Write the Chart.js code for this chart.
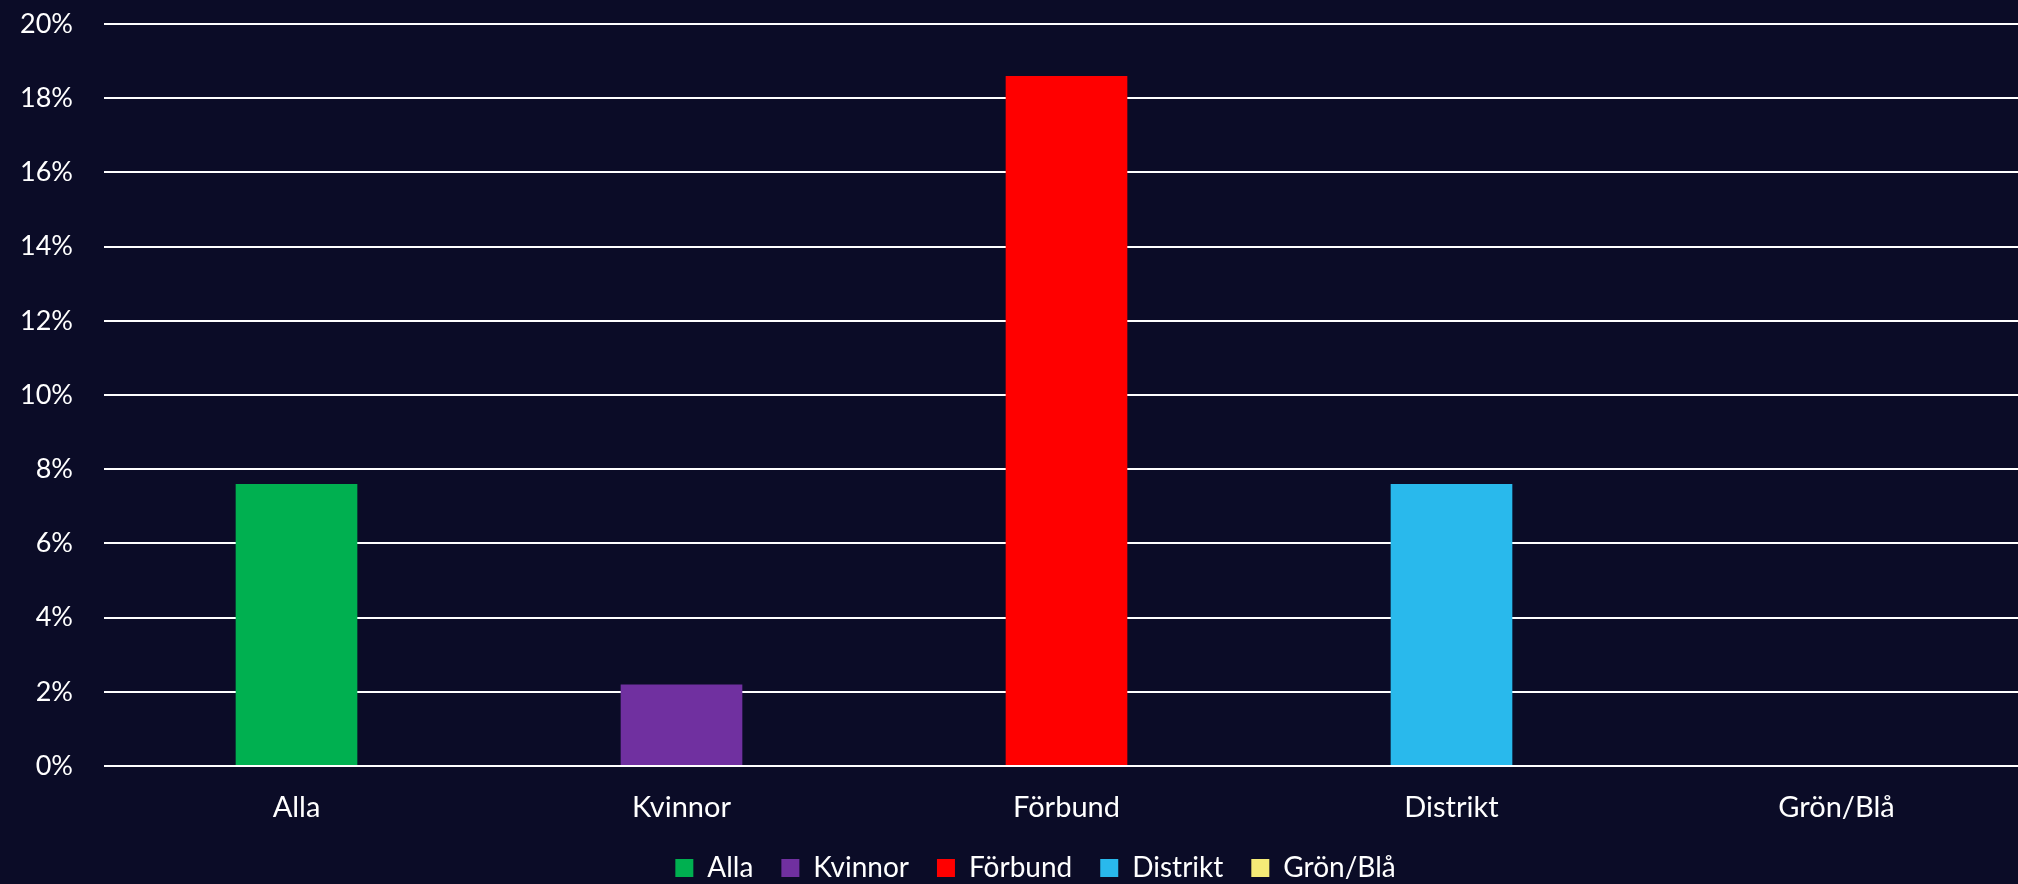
<!DOCTYPE html>
<html>
<head>
<meta charset="utf-8">
<script src="https://cdn.jsdelivr.net/npm/chart.js@4/dist/chart.umd.min.js"></script>
<style>
  html, body { margin: 0; padding: 0; background: #0B0C27; }
  #wrap { width: 2018px; height: 884px; position: relative; }
</style>
</head>
<body>
<div id="wrap"><canvas id="c" width="2018" height="884"></canvas></div>
<script>
const categories = ["Alla", "Kvinnor", "Förbund", "Distrikt", "Grön/Blå"];
const values = [7.6, 2.2, 18.6, 7.6, 0];
const colors = ["#00B050", "#7030A0", "#FF0000", "#29B9EC", "#F5EB77"];
const yTicks = [0, 2, 4, 6, 8, 10, 12, 14, 16, 18, 20];

const FONT = "Lato";
const TEXT = "#FFFFFF";

const datasets = categories.map((name, i) => ({
  label: name,
  data: categories.map((_, j) => (j === i ? values[i] : null)),
  backgroundColor: colors[i],
  borderWidth: 0,
  barPercentage: 0.316,
  categoryPercentage: 1.0,
  grouped: false,
  skipNull: true
}));

const bgPlugin = {
  id: "bg",
  beforeDraw(chart) {
    const ctx = chart.ctx;
    ctx.save();
    ctx.fillStyle = "#0B0C27";
    ctx.fillRect(0, 0, chart.width, chart.height);
    ctx.restore();
  }
};

// The plot area of the original runs slightly past the right edge of the picture.
const layoutTweak = {
  id: "layoutTweak",
  afterLayout(chart) {
    const extra = 11;
    const x = chart.scales.x;
    x.right += extra;
    x.width += extra;
    x.configure();
    chart.chartArea.right += extra;
    chart.chartArea.width += extra;
    if (chart.legend) { chart.legend.left += 53; }
  }
};

new Chart(document.getElementById("c"), {
  type: "bar",
  data: { labels: categories, datasets },
  options: {
    responsive: false,
    animation: false,
    devicePixelRatio: 1,
    layout: { padding: { top: 24, right: 0, bottom: -8, left: 0 } },
    plugins: {
      legend: {
        position: "bottom",
        labels: {
          color: TEXT,
          font: { family: FONT, size: 28 },
          boxWidth: 18,
          boxHeight: 18,
          padding: 28
        }
      },
      tooltip: { enabled: false }
    },
    scales: {
      x: {
        afterFit(scale) { scale.height = 60; },
        grid: { display: false, drawTicks: false },
        border: { display: false },
        ticks: { color: TEXT, font: { family: FONT, size: 29 }, padding: 24 }
      },
      y: {
        min: 0,
        max: 20,
        afterFit(scale) {
          scale.width = 104;
          scale.paddingTop = 0;
          scale.paddingBottom = 0;
        },
        afterBuildTicks(scale) { scale.ticks = yTicks.map(v => ({ value: v })); },
        grid: { color: "#FFFFFF", lineWidth: 2, drawTicks: false },
        border: { display: false },
        ticks: {
          color: TEXT,
          font: { family: FONT, size: 27 },
          padding: 31,
          callback: v => v + "%"
        }
      }
    }
  },
  plugins: [bgPlugin, layoutTweak]
});
</script>
</body>
</html>
